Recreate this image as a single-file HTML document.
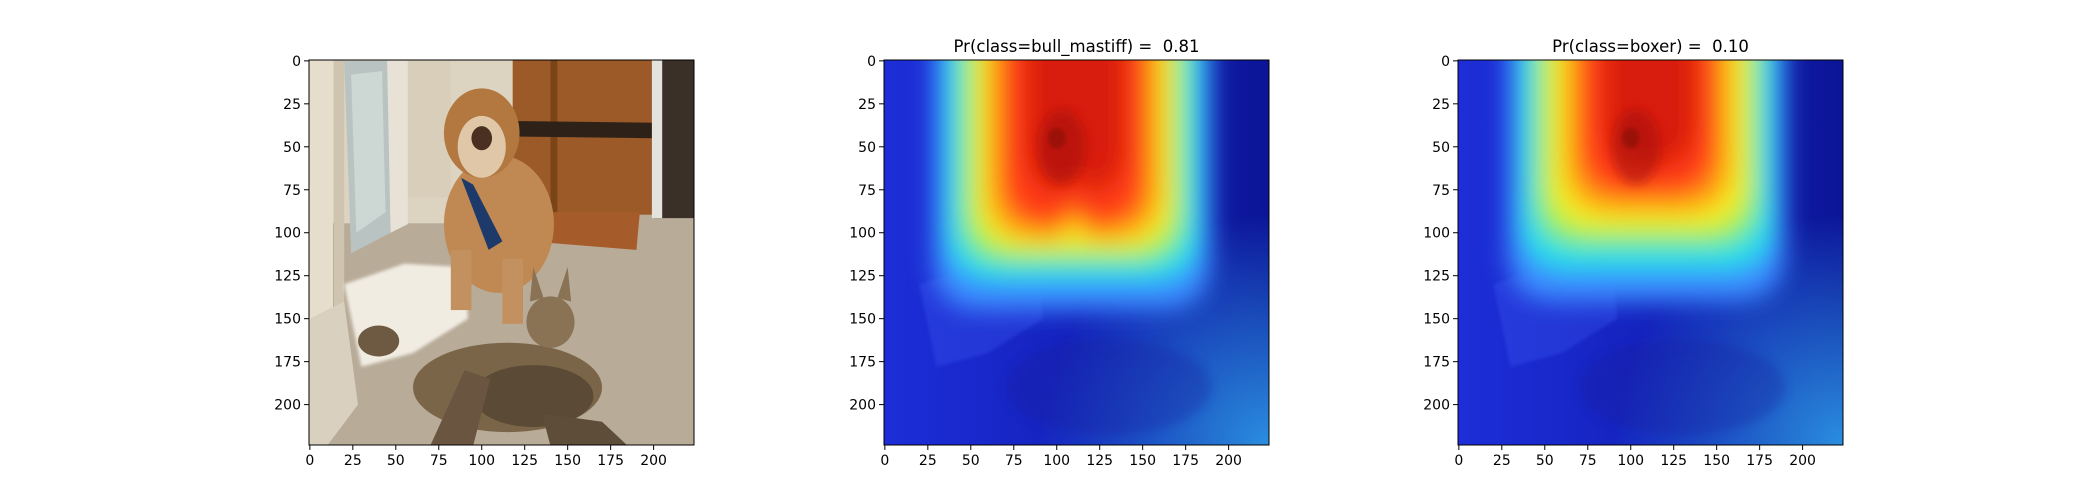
<!DOCTYPE html>
<html><head><meta charset="utf-8">
<style>
html,body{margin:0;padding:0;background:#fff;}
svg{display:block;font-family:"DejaVu Sans","Liberation Sans",sans-serif;}
text{white-space:pre;}
</style></head>
<body>
<svg id="fig" width="2100" height="500" viewBox="0 0 2100 500" xmlns="http://www.w3.org/2000/svg">
<defs>
  <filter id="b6" x="-50%" y="-50%" width="200%" height="200%"><feGaussianBlur stdDeviation="7"/></filter>
  <filter id="b3" x="-50%" y="-50%" width="200%" height="200%"><feGaussianBlur stdDeviation="3"/></filter>
  <filter id="b1"><feGaussianBlur stdDeviation="1"/></filter>
  <radialGradient id="corner" cx="1" cy="1" r="0.6">
    <stop offset="0" stop-color="#2a8ee0"/><stop offset="1" stop-color="#2a8ee0" stop-opacity="0"/>
  </radialGradient>
  <linearGradient id="rightdark" x1="0" x2="1" y1="0" y2="0">
    <stop offset="0" stop-color="#0a14a0" stop-opacity="0"/><stop offset="1" stop-color="#0a1290" stop-opacity="0.9"/>
  </linearGradient>
  <g id="photo">
    <rect x="-0.5" y="-0.5" width="224" height="224" fill="#b8ab98"/>
    <rect x="-0.5" y="-0.5" width="120" height="95" fill="#ddd3c1"/>
    <rect x="-0.5" y="-0.5" width="14" height="190" fill="#e6ddcd"/>
    <rect x="14" y="-0.5" width="6" height="170" fill="#cfc4b0"/>
    <polygon points="20,0 45,0 47,100 24,112" fill="#b9c4c2"/>
    <polygon points="24,8 42,6 44,88 27,100" fill="#cdd7d4"/>
    <polygon points="45,0 57,0 57,95 47,100" fill="#e8e2d6"/>
    <rect x="57" y="-0.5" width="25" height="80" fill="#d9ceba"/>
    <rect x="118" y="-0.5" width="82" height="90" fill="#9b5a28"/>
    <rect x="140" y="-0.5" width="4" height="90" fill="#7a4418"/>
    <polygon points="118,35 200,36 200,45 118,44" fill="#2e2218"/>
    <polygon points="140,88 192,88 190,110 140,106" fill="#a65c2a"/>
    <rect x="200" y="-0.5" width="24" height="92" fill="#3a3028"/>
    <rect x="199" y="-0.5" width="6" height="92" fill="#e4e2dc"/>
    <polygon points="20,130 55,118 90,120 92,150 60,170 30,178" fill="#f1ece2" filter="url(#b1)"/>
    <polygon points="0,150 20,140 28,200 10,224 -0.5,224" fill="#d9d0c0"/>
    <ellipse cx="110" cy="95" rx="32" ry="40" fill="#c08852"/>
    <ellipse cx="100" cy="42" rx="22" ry="26" fill="#b27840"/>
    <ellipse cx="100" cy="50" rx="14" ry="18" fill="#e0c7a8"/>
    <ellipse cx="100" cy="45" rx="6" ry="7" fill="#4a3020"/>
    <polygon points="88,68 95,72 112,105 104,110" fill="#1e3a6a"/>
    <rect x="82" y="110" width="12" height="35" fill="#c39060"/>
    <rect x="112" y="115" width="12" height="38" fill="#c39060"/>
    <ellipse cx="115" cy="190" rx="55" ry="26" fill="#7a6548"/>
    <ellipse cx="130" cy="195" rx="35" ry="18" fill="#5a4a36"/>
    <ellipse cx="140" cy="152" rx="14" ry="15" fill="#8a7355"/>
    <polygon points="128,140 130,120 136,138" fill="#8a7355"/>
    <polygon points="144,138 150,120 152,140" fill="#8a7355"/>
    <polygon points="70,224 90,180 105,185 95,224" fill="#6a5640"/>
    <polygon points="135,205 170,210 185,224 140,224" fill="#5e4d38"/>
    <ellipse cx="40" cy="163" rx="12" ry="9" fill="#6e5a42"/>
  </g>
  <g id="heatbase">
    <rect x="-0.5" y="-0.5" width="224" height="224" fill="#1d2ed8"/>
    <rect x="-0.5" y="-0.5" width="224" height="224" fill="url(#rightdark)"/>
    <rect x="-0.5" y="-0.5" width="224" height="224" fill="url(#corner)"/>
    <ellipse cx="130" cy="190" rx="60" ry="28" fill="#141c9c" opacity="0.3" filter="url(#b3)"/>
    <polygon points="20,130 55,118 90,120 92,150 60,170 30,178" fill="#3a55f0" opacity="0.35" filter="url(#b1)"/>
  </g>
</defs>

<g id="axes1"></g>
<g id="axes2"></g>
<g id="axes3"></g>
</svg>
<script>
const xTicks = [0,25,50,75,100,125,150,175,200];
const yTicks = [0,25,50,75,100,125,150,175,200];
const imgSize = 224;
const titles = ["", "Pr(class=bull_mastiff) =  0.81", "Pr(class=boxer) =  0.10"];
const heatColors = ["#3a8cff","#22dde8","#8aef5a","#f4ec22","#ff9a10","#ff3a12","#d81a08"];
const mastiffLeft  = [28,36,44,52,60,68,82];
const mastiffRight = [190,183,175,168,160,152,140];
const mastiffBottom= [145,128,118,110,104,96,78];
const boxerLeft  = [28,36,44,52,62,70,84];
const boxerRight = [190,183,175,168,158,150,138];
const boxerBottom= [140,122,108,98,88,78,62];

const NS = "http://www.w3.org/2000/svg";
const axLeft = [309, 884, 1458];
const axTop = 60, axW = 385;
function mk(tag, attrs, parent){const e=document.createElementNS(NS,tag);for(const k in attrs)e.setAttribute(k,attrs[k]);parent.appendChild(e);return e;}

function buildAxes(i){
  const g = document.getElementById("axes"+(i+1));
  const L = axLeft[i], s = axW/imgSize;
  const sx = v => L + (v+0.5)*s;
  const sy = v => axTop + (v+0.5)*s;
  const clipId = "clip"+i;
  const cp = mk("clipPath",{id:clipId},document.querySelector("defs"));
  mk("rect",{x:L,y:axTop,width:axW,height:axW},cp);
  const img = mk("g",{"clip-path":"url(#"+clipId+")"},g);
  
  
  const inner = mk("g",{transform:"translate("+sx(0)+","+sy(0)+") scale("+s+")"},img);
  if(i===0){
    mk("use",{href:"#photo"},inner);
  } else {
    mk("use",{href:"#heatbase"},inner);
    const Ls = i===1?mastiffLeft:boxerLeft, Rs = i===1?mastiffRight:boxerRight, Bs = i===1?mastiffBottom:boxerBottom;
    const hg = mk("g",{filter:"url(#b6)"},inner);
    for(let k=0;k<heatColors.length;k++){
      const x0=Ls[k], x1=Rs[k], yb=Bs[k], r=Math.min(30,(x1-x0)/2);
      const mid=(x0+x1)/2;
      const notch = i===1 && k>=4 ? 12 : 0;
      const d = "M"+x0+",-20 L"+x1+",-20 L"+x1+","+(yb-r)+" Q"+x1+","+yb+" "+(x1-r)+","+yb+
        " L"+(mid+8)+","+yb+" L"+mid+","+(yb-notch)+" L"+(mid-8)+","+yb+
        " L"+(x0+r)+","+yb+" Q"+x0+","+yb+" "+x0+","+(yb-r)+" Z";
      const p = mk("path",{d:d,fill:heatColors[k]},hg);
      
      
    }
    mk("ellipse",{cx:103,cy:50,rx:14,ry:22,fill:"#a01008",opacity:0.5,filter:"url(#b3)"},inner);
    mk("ellipse",{cx:100,cy:45,rx:5,ry:6,fill:"#600800",opacity:0.35,filter:"url(#b1)"},inner);
  }
  const frame = mk("rect",{x:L,y:axTop,width:axW,height:axW,fill:"none",stroke:"#000","stroke-width":1},g);
  
  
  const bottom = axTop+axW;
  xTicks.forEach(v=>{
    const x = sx(v);
    const t = mk("line",{x1:x,x2:x,y1:bottom,y2:bottom+5,stroke:"#000","stroke-width":1},g);
    
    
    const lb = mk("text",{x:x,y:bottom+20,"text-anchor":"middle","font-size":14,fill:"#000"},g);
    lb.textContent = v;
    
    
  });
  yTicks.forEach(v=>{
    const y = sy(v);
    const t = mk("line",{x1:L-5,x2:L,y1:y,y2:y,stroke:"#000","stroke-width":1},g);
    
    
    const lb = mk("text",{x:L-8,y:y+5,"text-anchor":"end","font-size":14,fill:"#000"},g);
    lb.textContent = v;
    
    
  });
  if(titles[i]){
    const tt = mk("text",{x:L+axW/2,y:axTop-8,"text-anchor":"middle","font-size":16.5,fill:"#000"},g);
    tt.textContent = titles[i];
    
    
  }
}
[0,1,2].forEach(buildAxes);
</script>
</body></html>
